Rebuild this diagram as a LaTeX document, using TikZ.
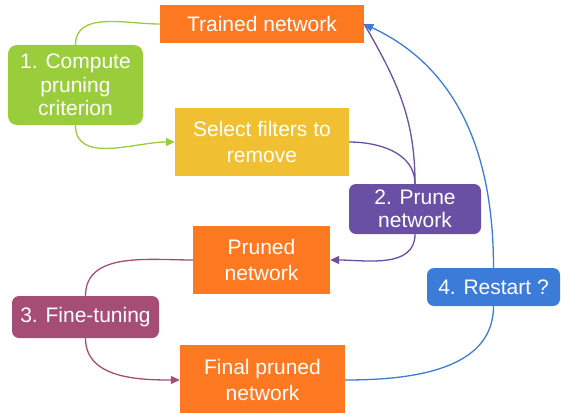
\documentclass[tikz,border=0pt]{standalone}
\usepackage{fontspec}
\setmainfont{Liberation Sans}
\usetikzlibrary{arrows.meta, positioning}
\definecolor{netorange}{RGB}{253, 121, 33}
\definecolor{stepgreen}{RGB}{153, 205, 60}
\definecolor{selyellow}{RGB}{240, 192, 50}
\definecolor{prunepurple}{RGB}{105, 80, 165}
\definecolor{tunemagenta}{RGB}{166, 77, 118}
\definecolor{restartblue}{RGB}{58, 124, 216}

\tikzset{
  netbox/.style={fill=netorange, text=white, inner sep=0pt, align=center,
    font=\fontsize{21}{26}\selectfont},
  stepbox/.style={text=white, inner sep=0pt, align=center, rounded corners=7pt,
    font=\fontsize{21}{23.5}\selectfont},
  link/.style={line width=1.3pt},
  tip/.style={-{Triangle[length=9pt, width=8pt]}}
}

\begin{document}
\begin{tikzpicture}[x=1pt, y=-1pt]
  \useasboundingbox (0,0) rectangle (561,412);

  % networks
  \node[netbox, minimum width=204pt, minimum height=38pt] (trained) at (262,24) {Trained network};
  \node[netbox, fill=selyellow, minimum width=174pt, minimum height=68pt] (select) at (262,142) {Select filters to\\remove};
  \node[netbox, minimum width=137pt, minimum height=68pt] (pruned) at (261.5,260) {Pruned\\network};
  \node[netbox, minimum width=165pt, minimum height=70pt] (final) at (262.5,380) {Final pruned\\network};

  % steps
  \node[stepbox, fill=stepgreen, rounded corners=9pt, minimum width=135pt, minimum height=80pt] (compute) at (75.5,85) {1. Compute\\pruning\\criterion};
  \node[stepbox, fill=prunepurple, minimum width=132pt, minimum height=50pt] (prune) at (415,209) {2. Prune\\network};
  \node[stepbox, fill=tunemagenta, minimum width=147pt, minimum height=42pt] (tune) at (85.5,317) {3. Fine-tuning};
  \node[stepbox, fill=restartblue, minimum width=133pt, minimum height=38pt] (restart) at (493.5,287) {4. Restart ?};

  % step 1
  \draw[link, stepgreen] (trained.west) to[out=180, in=90] (compute.north);
  \draw[link, stepgreen, tip] (compute.south) to[out=-90, in=180] (select.west);

  % step 2
  \draw[link, prunepurple] (select.east) to[out=0, in=90] (prune.north);
  \draw[link, prunepurple] (prune.north) to[out=90, in=-60] (trained.east);
  \draw[link, prunepurple, tip] (prune.south) to[out=-90, in=0] (pruned.east);

  % step 3
  \draw[link, tunemagenta] (pruned.west) to[out=180, in=90] (tune.north);
  \draw[link, tunemagenta, tip] (tune.south) to[out=-90, in=180] (final.west);

  % step 4
  \draw[link, restartblue] (final.east) to[out=0, in=-90] (restart.south);
  \draw[link, restartblue, tip] (restart.north) to[out=90, in=-25] (trained.east);
\end{tikzpicture}
\end{document}
